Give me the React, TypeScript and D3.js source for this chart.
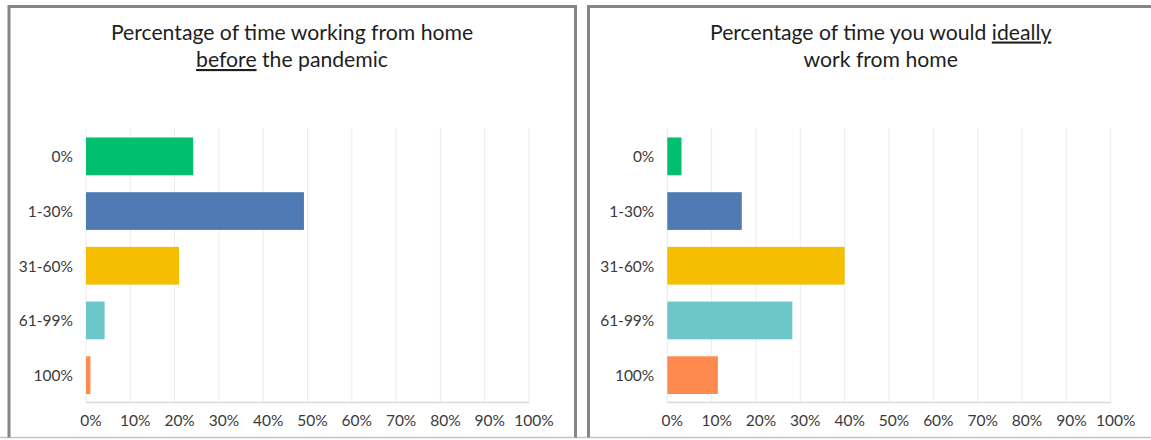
import React from "react";
import * as d3 from "d3";

const categories = ["0%", "1-30%", "31-60%", "61-99%", "100%"];
const beforeValues = [24.2, 49.2, 21.0, 4.2, 1.0];
const idealValues = [3.2, 16.8, 40.0, 28.2, 11.4];
const barColors = ["#00bf6f", "#4f7ab4", "#f6be00", "#6bc7ca", "#ff8a4f"];
const xTickValues = [0, 10, 20, 30, 40, 50, 60, 70, 80, 90, 100];
const xTickLabels = xTickValues.map((v) => `${v}%`);

const W = 1151;
const H = 440;
const FONT = "Lato, 'Open Sans', sans-serif";

type Line = { pre: string; u?: string; post?: string };

function Panel(props: {
  values: number[];
  x0: number;
  x1: number;
  titleX: number;
  title: Line[];
}) {
  const { values, x0, x1, titleX, title } = props;
  const x = d3.scaleLinear().domain([0, 100]).range([x0, x1]);
  const y = d3.scaleBand<string>().domain(categories).range([129, 402.5]).paddingInner(0.31).paddingOuter(0.155);
  const yTop = 128;
  const yBot = 402.5;
  return (
    <g>
      {xTickValues.map((t) => (
        <line key={"g" + t} x1={x(t)} x2={x(t)} y1={yTop} y2={yBot} stroke="#ececec" strokeWidth={1} />
      ))}
      <line x1={x(0)} x2={x(100)} y1={yBot} y2={yBot} stroke="#d9d9d9" strokeWidth={1.3} />
      {categories.map((c, i) => (
        <rect key={c} x={x(0)} y={y(c)} width={x(values[i]) - x(0)} height={y.bandwidth()} fill={barColors[i]} />
      ))}
      {categories.map((c) => (
        <text
          key={"l" + c}
          x={x(0) - 13}
          y={(y(c) as number) + y.bandwidth() / 2}
          textAnchor="end"
          dominantBaseline="central"
          fontFamily={FONT}
          fontSize={15.5}
          fill="#3a3a3a"
        >
          {c}
        </text>
      ))}
      {xTickValues.map((t, i) => (
        <text
          key={"t" + t}
          x={x(t) + 5}
          y={425.5}
          textAnchor="middle"
          fontFamily={FONT}
          fontSize={15.5}
          fill="#3a3a3a"
        >
          {xTickLabels[i]}
        </text>
      ))}
      {title.map((ln, i) => (
        <text
          key={"h" + i}
          x={titleX}
          y={39.5 + i * 27.5}
          textAnchor="middle"
          fontFamily={FONT}
          fontSize={21.2}
          fill="#1e1e1e"
        >
          {ln.pre}
          {ln.u ? <tspan style={{ textDecoration: "underline" }}>{ln.u}</tspan> : null}
          {ln.post ?? ""}
        </text>
      ))}
    </g>
  );
}

export default function App() {
  return (
    <svg
      width={W}
      height={H}
      viewBox={`0 0 ${W} ${H}`}
      style={{ position: "absolute", left: 0, top: 0, background: "#fff" }}
    >
      <rect x={0} y={0} width={W} height={H} fill="#ffffff" />
      {/* panel frames */}
      <line x1={0} x2={W} y1={437.5} y2={437.5} stroke="#c4c4c4" strokeWidth={1.5} />
      <path d="M9,437.5 V6.5 H575.5 V437.5" fill="none" stroke="#858585" strokeWidth={3} />
      <path d="M588.5,437.5 V6.5 H1151" fill="none" stroke="#858585" strokeWidth={3} />
      <Panel
        values={beforeValues}
        x0={86}
        x1={529}
        titleX={292}
        title={[{ pre: "Percentage of time working from home" }, { pre: "", u: "before", post: " the pandemic" }]}
      />
      <Panel
        values={idealValues}
        x0={667.3}
        x1={1110.7}
        titleX={880.7}
        title={[{ pre: "Percentage of time you would ", u: "ideally" }, { pre: "work from home" }]}
      />
    </svg>
  );
}
